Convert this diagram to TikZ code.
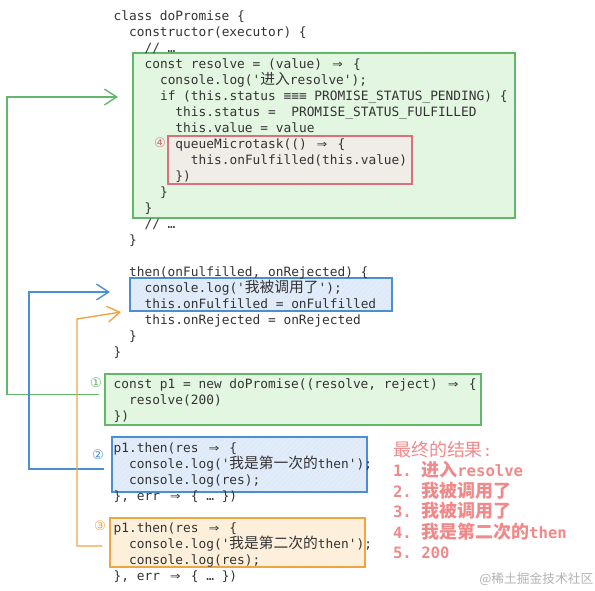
\documentclass[tikz,border=0pt]{standalone}
\usepackage{fontspec}
\setmonofont{DejaVu Sans Mono}
\newfontfamily\cjk[Scale=1.15]{Noto Sans CJK SC}
\newfontfamily\circfont{DejaVu Sans}
\usetikzlibrary{arrows.meta,fit,patterns}
\definecolor{codegray}{HTML}{333333}
\definecolor{linegreen}{HTML}{62B86A}
\definecolor{fillgreen}{HTML}{E6F4E3}
\definecolor{lineblue}{HTML}{4A8FD6}
\definecolor{fillblue}{HTML}{DDEBF8}
\definecolor{lineorange}{HTML}{F0A541}
\definecolor{fillorange}{HTML}{FDF1DC}
\definecolor{linered}{HTML}{D9707C}
\definecolor{fillred}{HTML}{EFEDE6}
\definecolor{respink}{HTML}{F08A8A}
\newcommand\dimp{\makebox[1.204em]{\scalebox{1.35}[1.1]{⇒}}}

\begin{document}
\begin{tikzpicture}[x=0.02cm,y=-0.02cm,
    code/.style={anchor=base west,inner sep=0pt,text=codegray,font=\ttfamily\fontsize{7.3}{9}\selectfont},
    box/.style n args={3}{draw=#1,line width=0.8pt,inner sep=0pt,
      preaction={fill=#2},preaction={pattern=north east lines,pattern color=#3}},
    num/.style={inner sep=0pt,text=#1,font=\circfont\fontsize{7.5}{8}\selectfont},
    flow/.style={line width=0.8pt,-{Straight Barb[length=7pt,width=9pt]}},
    result/.style={anchor=base west,inner sep=0pt,text=respink,font=\ttfamily\bfseries\fontsize{8.9}{10}\selectfont}]
\useasboundingbox (0,0) rectangle (595,591);

% boxes behind the code
\node[box={linegreen}{fillgreen}{green!14},fit={(133,53) (515,218)}] (resolvebox) {};
\node[box={linered}{fillred}{fillred},fit={(168,136) (412,184)}] (microbox) {};
\node[box={lineblue}{fillblue}{blue!8},fit={(130,278) (392,311)}] (thenbox) {};
\node[box={linegreen}{fillgreen}{green!14},fit={(105,374) (481,425)}] (p1box) {};
\node[box={lineblue}{fillblue}{blue!8},fit={(112,437) (367,492)}] (firstbox) {};
\node[box={lineorange}{fillorange}{orange!14},fit={(110,518) (365,567)}] (secondbox) {};

% code lines: line/indent/text
\foreach \n/\i/\t in {
    1/0/{class doPromise \{},
    2/1/{constructor(executor) \{},
    3/2/{// …},
    4/2/{const resolve = (value) \dimp{} \{},
    5/3/{console.log('{\cjk 进入}resolve');},
    6/3/{if (this.status ≡≡≡ PROMISE\_STATUS\_PENDING) \{},
    7/4/{this.status =\ \ PROMISE\_STATUS\_FULFILLED},
    8/4/{this.value = value},
    9/4/{queueMicrotask(() \dimp{} \{},
    10/5/{this.onFulfilled(this.value)},
    11/4/{\})},
    12/3/{\}},
    13/2/{\}},
    14/2/{// …},
    15/1/{\}},
    17/1/{then(onFulfilled, onRejected) \{},
    18/2/{console.log('{\cjk 我被调用了}');},
    19/2/{this.onFulfilled = onFulfilled},
    20/2/{this.onRejected = onRejected},
    21/1/{\}},
    22/0/{\}},
    24/0/{const p1 = new doPromise((resolve, reject) \dimp{} \{},
    25/1/{resolve(200)},
    26/0/{\})},
    28/0/{p1.then(res \dimp{} \{},
    29/1/{console.log('{\cjk 我是第一次的}then');},
    30/1/{console.log(res);},
    31/0/{\}, err \dimp{} \{ … \})},
    33/0/{p1.then(res \dimp{} \{},
    34/1/{console.log('{\cjk 我是第二次的}then');},
    35/1/{console.log(res);},
    36/0/{\}, err \dimp{} \{ … \})}}{
  \node[code] (l\n) at ({113.3+15.46*\i},{20.5+16*(\n-1)}) {\t};
}

\node[num=linegreen] (one) at (96,383) {①};
\node[num=lineblue] (two) at (98,455) {②};
\node[num=lineorange] (three) at (100,526) {③};
\node[num=linered] (four) at (160,143) {④};

% connectors
\coordinate (gcorner) at (7,97);
\coordinate (gtip) at (118,97);
\coordinate (bcorner) at (29,292);
\coordinate (btip) at (110,292);
\coordinate (ocorner) at (77,319);
\coordinate (otip) at (121,312);
\draw[flow,linegreen] ([xshift=-0.1cm,yshift=0.1cm]p1box.west) -| (gcorner) -- (gtip);
\draw[flow,lineblue] ([xshift=-0.14cm,yshift=-0.09cm]firstbox.west) -| (bcorner) -- (btip);
\draw[flow,lineorange] ([xshift=-0.14cm,yshift=-0.07cm]secondbox.west) -| (ocorner) -- (otip);

% final output
\node[result,font=\ttfamily\fontsize{8.9}{10}\selectfont] (r0) at (392.7,456) {{\cjk 最终的结果}:};
\foreach \n/\t in {1/{1. {\cjk 进入}resolve},2/{2. {\cjk 我被调用了}},3/{3. {\cjk 我被调用了}},
    4/{4. {\cjk 我是第二次的}then},5/{5. 200}}{
  \node[result] (r\n) at (392.7,{456+20.5*\n}) {\t};
}
\node[anchor=base west,inner sep=0pt,text=black!30,font=\cjk\fontsize{6.3}{7}\selectfont] (watermark) at (479,583) {@稀土掘金技术社区};
\end{tikzpicture}
\end{document}
